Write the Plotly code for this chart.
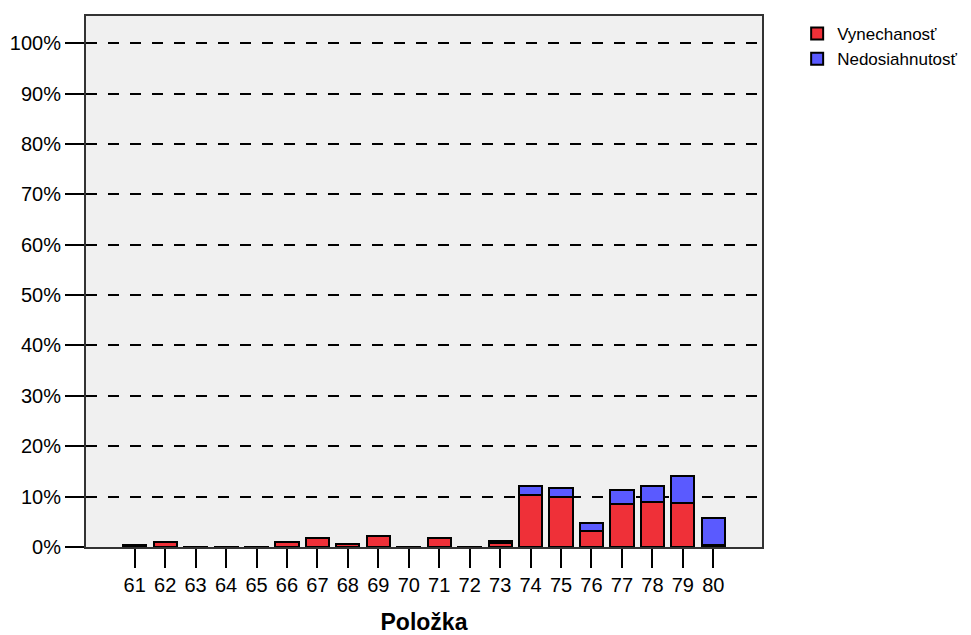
import plotly.graph_objects as go

categories = ["61", "62", "63", "64", "65", "66", "67", "68", "69", "70",
              "71", "72", "73", "74", "75", "76", "77", "78", "79", "80"]
vynechanost = [0.3, 0.9, 0.1, 0.1, 0.1, 0.9, 1.7, 0.5, 2.1, 0.1,
               1.7, 0.1, 0.8, 10.4, 10.0, 3.2, 8.5, 8.9, 8.8, 0.3]
nedosiahnutost = [0.0, 0.0, 0.0, 0.0, 0.0, 0.0, 0.0, 0.0, 0.0, 0.0,
                  0.0, 0.0, 0.4, 1.7, 1.7, 1.6, 2.8, 3.2, 5.3, 5.4]
ytick_vals = [0, 10, 20, 30, 40, 50, 60, 70, 80, 90, 100]
ytick_text = [f"{v}%" for v in ytick_vals]

FONT = "Liberation Sans, Arial, sans-serif"

fig = go.Figure()
fig.add_trace(go.Bar(x=categories, y=vynechanost, name="Vynechanosť",
                     legendgroup="a",
                     marker=dict(color="#ef3038", line=dict(color="black", width=2)),
                     width=0.76))
fig.add_trace(go.Bar(x=categories, y=nedosiahnutost, name="Nedosiahnutosť",
                     legendgroup="b",
                     marker=dict(color="#5a5aff", line=dict(color="black", width=2)),
                     width=0.76))

fig.update_layout(
    barmode="stack",
    width=963, height=627,
    margin=dict(l=78, r=205, t=8, b=88),
    paper_bgcolor="white",
    plot_bgcolor="#f0f0f0",
    font=dict(family=FONT, size=20, color="black"),
    showlegend=True,
    legend=dict(x=1.052, y=1.0, xanchor="left", yanchor="top",
                font=dict(size=17, color="black"), bgcolor="rgba(0,0,0,0)",
                traceorder="normal", tracegroupgap=24, itemsizing="constant"),
    xaxis=dict(
        type="category",
        range=[-1.6, 20.6],
        automargin=False,
        showgrid=False,
        showline=True, linecolor="#333", linewidth=2, mirror=True,
        ticks="outside", ticklen=19, tickwidth=2, tickcolor="black",
        tickfont=dict(size=20),
        title=dict(text="<b>Položka</b>", font=dict(size=23), standoff=22),
    ),
    yaxis=dict(
        range=[0, 105.4],
        automargin=False,
        tickvals=ytick_vals, ticktext=ytick_text,
        showgrid=True, gridcolor="black", gridwidth=2, griddash="11px,11px",
        zeroline=False,
        showline=True, linecolor="#333", linewidth=2, mirror=True,
        ticks="outside", ticklen=19, tickwidth=2, tickcolor="black",
        tickfont=dict(size=20),
    ),
)

fig.write_html("out.html")
